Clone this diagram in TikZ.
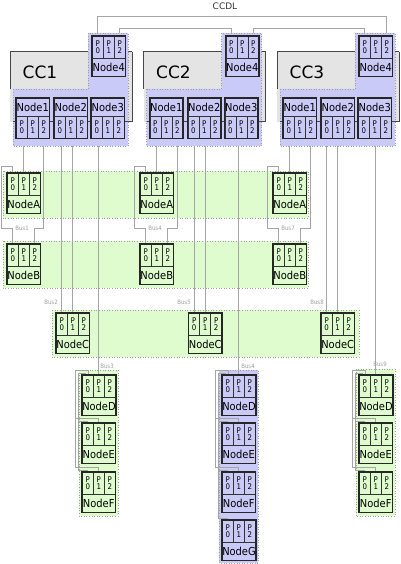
\documentclass[tikz,border=0pt]{standalone}
\usepackage{fontspec}
\setmainfont{DejaVu Sans}
\newfontfamily\condfont{DejaVu Sans Condensed}
\usepackage{tikz}
\usetikzlibrary{calc}
\definecolor{ccgray}{RGB}{228,228,228}
\definecolor{ccblue}{RGB}{202,202,248}
\definecolor{busgreen}{RGB}{222,252,206}
\definecolor{wiregray}{RGB}{165,165,165}
\definecolor{edgegray}{RGB}{70,70,70}
\pgfdeclarelayer{back}
\pgfdeclarelayer{wires}
\pgfsetlayers{back,wires,main}

% device with the ports on top and the name below
\newcommand{\portsfirst}[5]{%
  \foreach \k in {0,1,2}
    \node[portcell, fill=#5] (#1-p\k) at ({#3+11*\k},#4) {P\\\k};
  \node[labelcell, fill=#5] (#1) at (#3,{#4+22}) {#2};
  \draw[frame] (#1-p0.north west) rectangle (#1.south east);
}
% device with the name on top and the ports below
\newcommand{\labelfirst}[5]{%
  \node[labelcell, fill=#5] (#1) at (#3,#4) {#2};
  \foreach \k in {0,1,2}
    \node[portcell, fill=#5] (#1-p\k) at ({#3+11*\k},{#4+18}) {P\\\k};
  \draw[frame] (#1.north west) rectangle (#1-p2.south east);
}

\begin{document}
\begin{tikzpicture}[x=1pt,y=-1pt,
    wire/.style={draw=wiregray, line width=0.8pt},
    region/.style={draw=gray!75, dotted, line width=0.6pt},
    portcell/.style={draw=black!80, line width=0.5pt, anchor=north west,
      minimum width=11pt, minimum height=22pt, inner sep=0pt, align=center,
      font=\condfont\fontsize{7.8}{7.6}\selectfont},
    labelcell/.style={draw=black!80, line width=0.5pt, anchor=north west,
      minimum width=33pt, minimum height=18pt, inner sep=0pt,
      font=\condfont\fontsize{11}{11}\selectfont},
    frame/.style={draw=black!85, line width=1.1pt},
    buslabel/.style={text=gray!75, inner sep=0pt,
      font=\condfont\fontsize{6}{6}\selectfont}]
  \useasboundingbox (0,0) rectangle (400,564);

  % bus bands and node groups
  \begin{pgfonlayer}{back}
    \filldraw[busgreen, region] (3,171) rectangle (308,218);
    \filldraw[busgreen, region] (3,241) rectangle (308,288);
    \filldraw[busgreen, region] (52,310) rectangle (359,357);
    \filldraw[busgreen, region] (79,370) rectangle (118,516);
    \filldraw[ccblue, region] (219,370) rectangle (258,563);
    \filldraw[busgreen, region] (356,369) rectangle (395,516);
  \end{pgfonlayer}

  % the three computers with their nodes
  \foreach \i/\dx in {1/0, 2/133.5, 3/267} {
    \fill[ccgray] ({10+\dx},52) rectangle ({132+\dx},122);
    \draw[edgegray, line width=1pt] ({10+\dx},89) -- ({10+\dx},52) -- ({132+\dx},52);
    \filldraw[ccblue, region] ({13+\dx},89) -- ({88+\dx},89) -- ({88+\dx},33)
      -- ({128+\dx},33) -- ({128+\dx},146) -- ({13+\dx},146) -- cycle;
    \draw[edgegray, line width=1pt] ({13+\dx},122) -- ({132+\dx},122) -- ({132+\dx},52);
    \node[font=\fontsize{17}{17}\selectfont] (cc\i) at ({40+\dx},72) {CC\i};
    \portsfirst{cc\i-n4}{Node4}{92+\dx}{36}{ccblue}
    \labelfirst{cc\i-n1}{Node1}{16+\dx}{98}{ccblue}
    \labelfirst{cc\i-n2}{Node2}{54+\dx}{98}{ccblue}
    \labelfirst{cc\i-n3}{Node3}{91+\dx}{98}{ccblue}
  }

  % bus nodes
  \foreach \i/\dx/\la/\lc in {1/0/1/2, 2/133/4/5, 3/266/7/8} {
    \portsfirst{cc\i-na}{NodeA}{7+\dx}{173}{busgreen}
    \portsfirst{cc\i-nb}{NodeB}{7+\dx}{244}{busgreen}
    \portsfirst{cc\i-nc}{NodeC}{56+0.996*\dx}{313}{busgreen}
    \node[buslabel] (busab\i) at ({22+\dx},228) {Bus\la};
    \node[buslabel] (busc\i) at ({51+\dx},302) {Bus\lc};
  }

  % chained node groups
  \foreach \g/\gx/\gc in {1/82/busgreen, 2/222/ccblue, 3/359/busgreen} {
    \portsfirst{g\g-d}{NodeD}{\gx}{375}{\gc}
    \portsfirst{g\g-e}{NodeE}{\gx}{423}{\gc}
    \portsfirst{g\g-f}{NodeF}{\gx}{472}{\gc}
  }
  \portsfirst{g2-g}{NodeG}{222}{520}{ccblue}
  \node[buslabel] (busg1) at (107,366) {Bus3};
  \node[buslabel] (busg2) at (248,366) {Bus4};
  \node[buslabel] (busg3) at (380,364) {Bus9};
  \node[font=\fontsize{9}{9}\selectfont, text=black!80] (ccdl) at (225,6) {CCDL};

  \begin{pgfonlayer}{wires}
    % cross-channel data link
    \draw[wire] (cc1-n4-p0.north) -- ++(0,-20) -| (cc3-n4-p2.north);
    \draw[wire] (cc1-n4-p2.north) -- ++(0,-8) -| (cc2-n4-p0.north);
    \draw[wire] (cc2-n4-p2.north) -- ++(0,-8) -| (cc3-n4-p0.north);
    % computer ports down to the buses
    \foreach \i in {1,2,3} {
      \draw[wire] (cc\i-na-p1.north) -- (cc\i-na-p1.north |- cc\i-n1-p0.south);
      \draw[wire] (cc\i-n1-p2.south) |- (cc\i-nb-p2.north |- busab\i.center)
        -- (cc\i-nb-p2.north);
      \draw[wire] (cc\i-na-p0.north) -- ++(0,-7) -- ++(-11.5,0)
        |- (cc\i-nb-p0.north |- busab\i.center) -- (cc\i-nb-p0.north);
      \draw[wire] (cc\i-nc-p0.north) -- (cc\i-nc-p0.north |- cc\i-n2-p0.south);
      \draw[wire] (cc\i-nc-p1.north) -- (cc\i-nc-p1.north |- cc\i-n2-p1.south);
    }
    \draw[wire] (g1-d-p1.north) -- (g1-d-p1.north |- cc1-n3-p0.south);
    \draw[wire] (g2-d-p1.north) -- (g2-d-p1.north |- cc2-n3-p1.south);
    \draw[wire] (g3-d-p1.north) -- (g3-d-p1.north |- cc3-n3-p1.south);
    % links inside the groups: outer rail to P1, inner rail to P0
    \foreach \g/\last in {1/f, 2/g, 3/f} {
      \draw[wire] ([xshift=1pt]g\g-d-p0.north) -- ++(0,-5)
        -| ([xshift=-7pt, yshift=5pt]g\g-f-p0.north west) -| (g\g-f-p1.north);
      \draw[wire] ([xshift=-7pt, yshift=5pt]g\g-e-p0.north west) -| (g\g-e-p1.north);
      \draw[wire] ([xshift=-2pt]g\g-d-p0.north) -- ++(0,-2)
        -| ([xshift=-4pt, yshift=2pt]g\g-\last-p0.north west) -| (g\g-\last-p0.north);
      \draw[wire] ([xshift=-4pt, yshift=2pt]g\g-e-p0.north west) -| (g\g-e-p0.north);
      \draw[wire] ([xshift=-4pt, yshift=2pt]g\g-f-p0.north west) -| (g\g-f-p0.north);
    }
  \end{pgfonlayer}
\end{tikzpicture}
\end{document}
